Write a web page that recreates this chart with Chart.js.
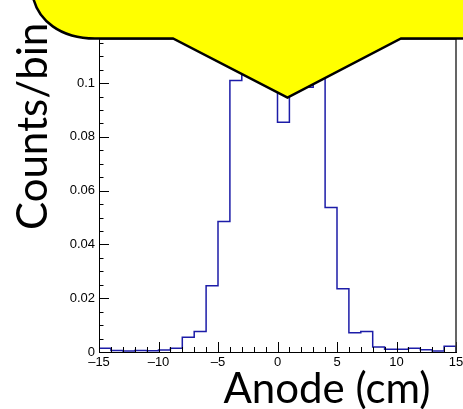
<!DOCTYPE html>
<html>
<head>
<meta charset="utf-8">
<script src="https://cdn.jsdelivr.net/npm/chart.js@4.4.1/dist/chart.umd.min.js"></script>
<style>
  html, body { margin: 0; padding: 0; background: #fff; }
  #wrap { width: 463px; height: 409px; }
</style>
</head>
<body>
<div id="wrap"><canvas id="anodeChart" width="463" height="409"></canvas></div>
<script>
// Bin edges along the anode (cm) and normalised counts per bin
const binEdges = [-15, -14, -13, -12, -11, -10, -9, -8, -7, -6, -5, -4, -3, -2, -1,
                  0, 1, 2, 3, 4, 5, 6, 7, 8, 9, 10, 11, 12, 13, 14, 15];
const counts = [0.0014, 0.0006, 0.0004, 0.0006, 0.0005, 0.0007, 0.0014, 0.0055, 0.0076, 0.0246,
                0.0485, 0.101, 0.104, 0.109, 0.111, 0.0854, 0.107, 0.0985, 0.105, 0.0537,
                0.0235, 0.0072, 0.0076, 0.0019, 0.0010, 0.0010, 0.0014, 0.0008, 0.0004, 0.0021];
const xTickValues = [-15, -10, -5, 0, 5, 10, 15];
const yTickValues = [0, 0.02, 0.04, 0.06, 0.08, 0.1];

document.addEventListener('DOMContentLoaded', function () {
  const ctx = document.getElementById('anodeChart').getContext('2d');

  // histogram outline: start and end on the baseline, step at each bin edge
  const histPoints = [{ x: binEdges[0], y: 0 }];
  binEdges.forEach(function (edge, i) {
    histPoints.push({ x: edge, y: counts[Math.min(i, counts.length - 1)] });
  });
  histPoints.push({ x: binEdges[binEdges.length - 1], y: 0 });

  const dash = function (v) { return v < 0 ? '\u2013' + Math.abs(v) : String(v); };

  // inward tick marks and the frame, ROOT style
  const frameTicks = {
    id: 'frameTicks',
    afterDatasetsDraw: function (chart) {
      const c = chart.ctx, a = chart.chartArea;
      const xs = chart.scales.x, ys = chart.scales.y;
      c.save();
      c.strokeStyle = '#000';
      c.lineWidth = 1;
      c.beginPath();
      for (let v = xs.min; v <= xs.max; v += 1) {
        const px = Math.round(xs.getPixelForValue(v)) + 0.5;
        const len = v % 5 === 0 ? 10 : 5;
        c.moveTo(px, a.bottom);
        c.lineTo(px, a.bottom - len);
      }
      for (let k = 0; k * 0.005 <= ys.max; k++) {
        const py = Math.round(ys.getPixelForValue(k * 0.005)) + 0.5;
        const len = k % 4 === 0 ? 10 : 4.5;
        c.moveTo(a.left, py);
        c.lineTo(a.left + len, py);
      }
      c.stroke();
      c.strokeStyle = '#333';
      c.lineWidth = 1.5;
      c.beginPath();
      c.moveTo(a.left, a.top);
      c.lineTo(a.right, a.top);
      c.lineTo(a.right, a.bottom);
      c.stroke();
      c.restore();
    }
  };

  // axis titles, then the yellow callout drawn on top
  const overlay = {
    id: 'overlay',
    afterDraw: function (chart) {
      const c = chart.ctx;
      c.save();
      c.fillStyle = '#000';
      c.font = '42px Lato';
      c.textBaseline = 'alphabetic';
      c.textAlign = 'center';
      c.fillText('Anode (cm)', 327, 403);
      c.translate(47, 230);
      c.rotate(-Math.PI / 2);
      c.textAlign = 'left';
      c.fillText('Counts/bin', 0, 0);
      c.restore();

      c.save();
      c.beginPath();
      c.moveTo(33, -3);
      c.bezierCurveTo(38, 20, 60, 38.5, 95, 38.5);
      c.lineTo(173, 38.5);
      c.lineTo(287.5, 97.5);
      c.lineTo(401, 38.5);
      c.lineTo(470, 38.5);
      c.lineTo(470, -5);
      c.lineTo(33, -5);
      c.closePath();
      c.fillStyle = '#ffff00';
      c.fill();
      c.beginPath();
      c.moveTo(33, -3);
      c.bezierCurveTo(38, 20, 60, 38.5, 95, 38.5);
      c.lineTo(173, 38.5);
      c.lineTo(287.5, 97.5);
      c.lineTo(401, 38.5);
      c.lineTo(470, 38.5);
      c.strokeStyle = '#000';
      c.lineWidth = 2.5;
      c.lineJoin = 'miter';
      c.stroke();
      c.restore();
    }
  };

  new Chart(ctx, {
    type: 'line',
    data: {
      datasets: [{
        label: 'Anode',
        data: histPoints,
        stepped: 'before',
        borderColor: '#1c1ca8',
        borderWidth: 1.5,
        pointRadius: 0,
        fill: false
      }]
    },
    options: {
      responsive: false,
      animation: false,
      devicePixelRatio: 1,
      layout: { padding: { top: 39, right: 7, left: 0, bottom: 0 } },
      plugins: { legend: { display: false }, tooltip: { enabled: false } },
      scales: {
        x: {
          type: 'linear',
          min: -15,
          max: 15,
          afterBuildTicks: function (s) { s.ticks = xTickValues.map(function (v) { return { value: v }; }); },
          afterFit: function (s) { s.height = 57; s.paddingLeft = 0; s.paddingRight = 0; },
          grid: { display: false, drawTicks: false },
          border: { display: true, color: '#000', width: 1 },
          ticks: {
            autoSkip: false,
            maxRotation: 0,
            padding: 3,
            color: '#000',
            font: { family: 'Liberation Sans', size: 13 },
            callback: function (v) { return dash(v); }
          }
        },
        y: {
          type: 'linear',
          min: 0,
          max: 0.1164,
          afterBuildTicks: function (s) { s.ticks = yTickValues.map(function (v) { return { value: v }; }); },
          afterFit: function (s) { s.width = 99; s.paddingTop = 0; s.paddingBottom = 0; },
          grid: { display: false, drawTicks: false },
          border: { display: true, color: '#000', width: 1 },
          ticks: {
            padding: 4,
            color: '#000',
            font: { family: 'Liberation Sans', size: 13 },
            callback: function (v) { return v === 0 ? '0' : String(+v.toFixed(2)); }
          }
        }
      }
    },
    plugins: [frameTicks, overlay]
  });
});
</script>
</body>
</html>
